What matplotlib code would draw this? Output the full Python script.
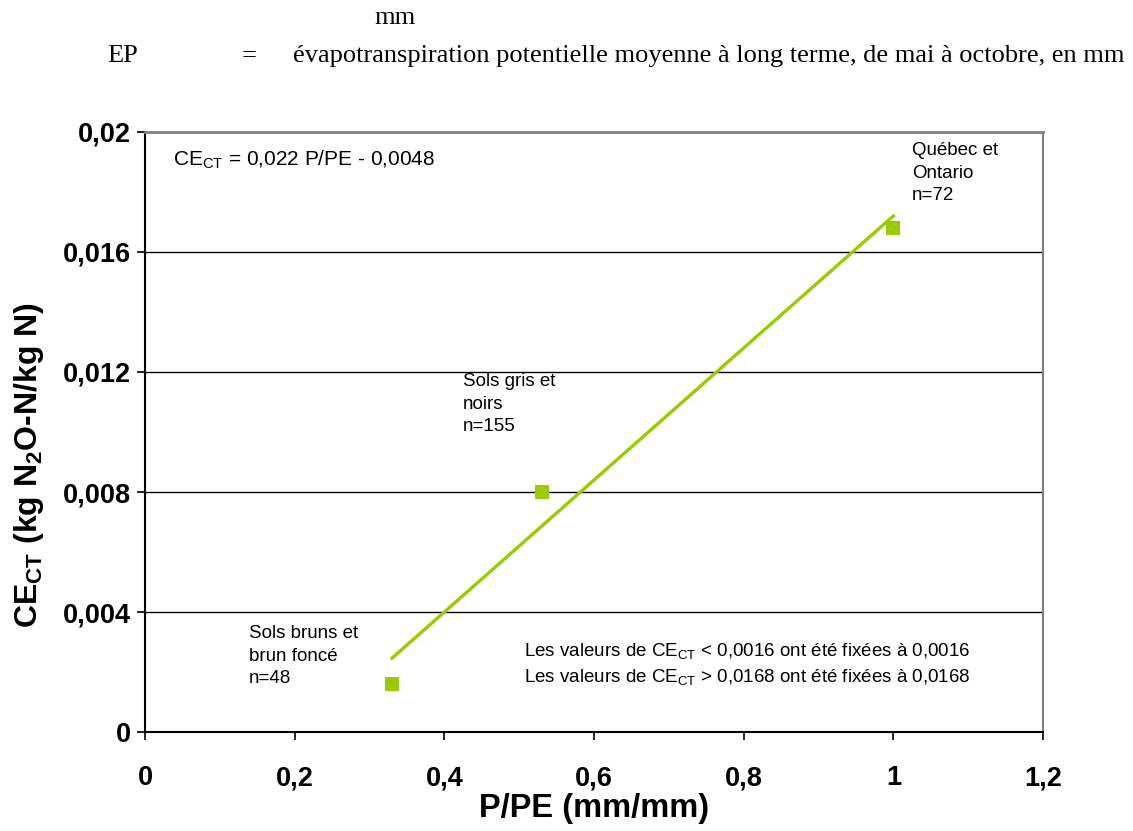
import matplotlib
matplotlib.use("Agg")
import matplotlib.pyplot as plt
import numpy as np

plt.rcParams["font.family"] = ["Liberation Sans", "DejaVu Sans"]
plt.rcParams["mathtext.fontset"] = "custom"
plt.rcParams["mathtext.rm"] = "Liberation Sans"
plt.rcParams["mathtext.it"] = "Liberation Sans"
plt.rcParams["mathtext.bf"] = "Liberation Sans:bold"

# Data: mean P/PE ratio per region and its emission factor
pp_ratio = [0.33, 0.53, 1.0]
ce_ct = [0.0016, 0.008, 0.0168]
region_labels = ["Sols bruns et\nbrun foncé\nn=48",
                 "Sols gris et\nnoirs\nn=155",
                 "Québec et\nOntario\nn=72"]

# Regression: CE_CT = slope * P/PE + intercept
slope = 0.022
intercept = -0.0048
fit_range = [0.33, 1.0]

x_ticks = [0, 0.2, 0.4, 0.6, 0.8, 1.0, 1.2]
x_ticklabels = ["0", "0,2", "0,4", "0,6", "0,8", "1", "1,2"]
y_ticks = [0, 0.004, 0.008, 0.012, 0.016, 0.02]
y_ticklabels = ["0", "0,004", "0,008", "0,012", "0,016", "0,02"]

green = "#99CC00"

fig = plt.figure(figsize=(11.33, 8.31), dpi=100)
ax = fig.add_axes([0.128, 0.1191, 0.7926, 0.7221])

# Header text above the chart
serif = ["Liberation Serif", "DejaVu Serif"]
fig.text(374 / 1133, 1 - 18 / 831, "mm", family=serif, fontsize=19, va="center")
fig.text(107 / 1133, 1 - 56 / 831, "EP", family=serif, fontsize=19, va="center")
fig.text(242 / 1133, 1 - 56 / 831, "=", family=serif, fontsize=19, va="center")
fig.text(293 / 1133, 1 - 56 / 831,
         "évapotranspiration potentielle moyenne à long terme, de mai à octobre, en mm",
         family=serif, fontsize=19, va="center")

# Horizontal gridlines
for yv in y_ticks[1:-1]:
    ax.axhline(yv, color="black", lw=1.0, zorder=1)

# Regression line
xf = np.array(fit_range)
ax.plot(xf, slope * xf + intercept, color=green, lw=2.4, zorder=3)

# Points
ax.plot(pp_ratio, ce_ct, linestyle="none", marker="s", markersize=9.5,
        color=green, markeredgewidth=0, zorder=4)

ax.set_xlim(0, 1.2)
ax.set_ylim(0, 0.02)
ax.set_xticks(x_ticks)
ax.set_xticklabels(x_ticklabels)
ax.set_yticks(y_ticks)
ax.set_yticklabels(y_ticklabels)
ax.tick_params(axis="both", direction="out", length=6, width=1.2,
               labelsize=19.5, color="black")
ax.tick_params(axis="x", pad=18)
ax.tick_params(axis="y", pad=4)
for lbl in ax.get_xticklabels() + ax.get_yticklabels():
    lbl.set_fontweight("bold")

ax.spines["left"].set_color("black")
ax.spines["bottom"].set_color("black")
ax.spines["left"].set_linewidth(1.5)
ax.spines["bottom"].set_linewidth(1.5)
ax.spines["top"].set_color("#808080")
ax.spines["right"].set_color("#808080")
ax.spines["top"].set_linewidth(2)
ax.spines["right"].set_linewidth(1.5)

ax.set_xlabel("P/PE (mm/mm)", fontsize=23.5, fontweight="bold")
ax.xaxis.set_label_coords(0.5, -0.101)
ax.set_ylabel(r"CE$_{\mathbf{CT}}$ (kg N$_{\mathbf{2}}$O-N/kg N)",
              fontsize=23, fontweight="bold")
ax.yaxis.set_label_coords(-0.11, 0.445)

# Annotations
ax.text(0.037, 0.01907, r"CE$_{\mathrm{CT}}$ = 0,022 P/PE - 0,0048",
        fontsize=15, va="center")
label_pos = [(0.139, 0.00253), (0.425, 0.01093), (1.025, 0.01863)]
for (lx, ly), txt in zip(label_pos, region_labels):
    ax.text(lx, ly, txt, fontsize=13.5, va="center", ha="left", linespacing=1.42)

ax.text(0.506, 0.00227,
        "Les valeurs de CE$_{\\mathrm{CT}}$ < 0,0016 ont été fixées à 0,0016\n"
        "Les valeurs de CE$_{\\mathrm{CT}}$ > 0,0168 ont été fixées à 0,0168",
        fontsize=13.5, va="center", ha="left", linespacing=1.42)

fig.savefig("out.png", dpi=100)
